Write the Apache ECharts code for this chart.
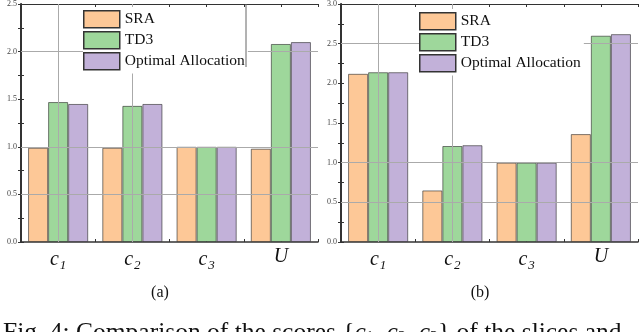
<!DOCTYPE html>
<html>
<head>
<meta charset="utf-8">
<script src="https://cdn.jsdelivr.net/npm/echarts@6/dist/echarts.min.js"></script>
<style>
  html, body { margin: 0; padding: 0; background: #fff; }
  #chart { width: 640px; height: 332px; }
</style>
</head>
<body>
<div id="chart"></div>
<script>
// ---- data ----
var categories = ['c1', 'c2', 'c3', 'U'];
var seriesNames = ['SRA', 'TD3', 'Optimal Allocation'];
// panel (a)
var sraA = [0.99, 0.99, 1.00, 0.98];
var td3A = [1.47, 1.43, 1.00, 2.08];
var optA = [1.45, 1.45, 1.00, 2.10];
// panel (b)
var sraB = [2.12, 0.65, 1.00, 1.36];
var td3B = [2.14, 1.21, 1.00, 2.60];
var optB = [2.14, 1.22, 1.00, 2.62];
// axis ranges / gridlines
var yMaxA = 2.5, yMaxB = 3.0, yStep = 0.5;
var hGridA = [0.5, 1.0, 2.0];
var hGridB = [0.5, 1.0, 2.5];
var vGrid = ['c1', 'c2'];
var panelLabels = ['(a)', '(b)'];

var colors = ['#FDC897', '#9ED79B', '#C2B1D9'];
var serif = 'Liberation Serif';
var axisCol = '#333';

function catLabel(v) {
  if (v === 'U') return '{i|U}';
  return '{i|c}{s|' + v.slice(1) + '}';
}

function makeGrid(idx, yMax) {
  var xAxes = [
    { // category axis with labels
      gridIndex: idx, type: 'category', data: categories, position: 'bottom',
      axisLine: { show: false }, axisTick: { show: false }, splitLine: { show: false },
      axisLabel: {
        margin: 5, formatter: catLabel,
        rich: {
          i: { fontFamily: serif, fontStyle: 'italic', fontSize: 20, color: '#111' },
          s: { fontFamily: serif, fontStyle: 'italic', fontSize: 13, color: '#111', verticalAlign: 'bottom', padding: [12, 0, 0, 1] }
        }
      }
    },
    { // bottom ticks (centers and boundaries)
      gridIndex: idx, type: 'value', min: 0, max: 8, interval: 1, position: 'bottom',
      axisLine: { show: true, lineStyle: { color: axisCol, width: 1.5 } },
      axisTick: { show: true, inside: true, length: 3, lineStyle: { color: axisCol } },
      axisLabel: { show: false }, splitLine: { show: false }
    },
    { // top ticks
      gridIndex: idx, type: 'value', min: 0, max: 8, interval: 1, position: 'top',
      axisLine: { show: true, lineStyle: { color: axisCol, width: 1 } },
      axisTick: { show: true, inside: true, length: 3, lineStyle: { color: axisCol } },
      axisLabel: { show: false }, splitLine: { show: false }
    }
  ];
  var yAxes = [
    {
      gridIndex: idx, type: 'value', min: 0, max: yMax, interval: yStep, position: 'left',
      axisLine: { show: true, lineStyle: { color: axisCol, width: 2 } },
      axisTick: { show: true, inside: true, length: 3, lineStyle: { color: axisCol } },
      minorTick: { show: true, splitNumber: 2, length: 3, lineStyle: { color: axisCol } },
      splitLine: { show: false },
      axisLabel: {
        margin: 4, fontFamily: serif, fontSize: 8, color: '#444',
        formatter: function (v) { return v.toFixed(1); }
      }
    },
    {
      gridIndex: idx, type: 'value', min: 0, max: yMax, interval: yStep, position: 'right',
      axisLine: { show: true, lineStyle: { color: axisCol, width: 1 } },
      axisTick: { show: true, inside: true, length: 3, lineStyle: { color: axisCol } },
      minorTick: { show: true, splitNumber: 2, length: 3, lineStyle: { color: axisCol } },
      splitLine: { show: false },
      axisLabel: { show: false }
    }
  ];
  return { xAxes: xAxes, yAxes: yAxes };
}

var gA = makeGrid(0, yMaxA);
var gB = makeGrid(1, yMaxB);
var xAxis = gA.xAxes.concat(gB.xAxes);
var yAxis = gA.yAxes.concat(gB.yAxes);

function barSeries(name, data, xi, yi, color) {
  return {
    name: name, type: 'bar', data: data, xAxisIndex: xi, yAxisIndex: yi,
    barGap: '0%', barCategoryGap: '19%', z: 3,
    itemStyle: { color: color, borderColor: 'rgba(40,40,40,0.6)', borderWidth: 1 }
  };
}

function gridLines(xi, yi, hVals) {
  var d = [];
  vGrid.forEach(function (c) { d.push({ xAxis: c }); });
  hVals.forEach(function (v) { d.push({ yAxis: v }); });
  return {
    type: 'line', data: [], xAxisIndex: xi, yAxisIndex: yi, z: 1, silent: true,
    markLine: {
      silent: true, symbol: 'none', label: { show: false }, animation: false,
      lineStyle: { color: '#aaa', type: 'solid', width: 1 },
      data: d
    }
  };
}

var series = [
  gridLines(0, 0, hGridA),
  barSeries(seriesNames[0], sraA, 0, 0, colors[0]),
  barSeries(seriesNames[1], td3A, 0, 0, colors[1]),
  barSeries(seriesNames[2], optA, 0, 0, colors[2]),
  gridLines(3, 2, hGridB),
  barSeries(seriesNames[0], sraB, 3, 2, colors[0]),
  barSeries(seriesNames[1], td3B, 3, 2, colors[1]),
  barSeries(seriesNames[2], optB, 3, 2, colors[2])
];

function legendAt(left, top) {
  return {
    data: seriesNames, orient: 'vertical', left: left, top: top, z: 20, zlevel: 0,
    itemWidth: 36, itemHeight: 17, itemGap: 2.5, padding: [3, 3, 3, 0],
    backgroundColor: '#fff', icon: 'rect', selectedMode: false,
    itemStyle: { borderColor: '#333', borderWidth: 1.5 },
    textStyle: { fontFamily: serif, fontSize: 15.5, color: '#111' }
  };
}

var option = {
  animation: false,
  backgroundColor: '#fff',
  color: colors,
  grid: [
    { left: 21, right: 322, top: 3, bottom: 90 },
    { left: 341, right: 2, top: 3, bottom: 90 }
  ],
  xAxis: xAxis,
  yAxis: yAxis,
  legend: [legendAt(83, 7), legendAt(419, 9)],
  series: series,
  graphic: [
    { type: 'line', shape: { x1: 246, y1: 4, x2: 246, y2: 67 }, style: { stroke: '#666', lineWidth: 1 }, z: 30 },
    { type: 'text', x: 160, y: 293, style: { text: panelLabels[0], fill: '#111', font: '16px "Liberation Serif"', align: 'center', verticalAlign: 'middle' } },
    { type: 'text', x: 480, y: 293, style: { text: panelLabels[1], fill: '#111', font: '16px "Liberation Serif"', align: 'center', verticalAlign: 'middle' } },
    {
      type: 'text', x: 3, y: 320,
      style: {
        text: '{n|Fig. 4: Comparison of the scores \{}{i|c}{s|1}{n|, }{i|c}{s|2}{n|, }{i|c}{s|3}{n|\}}{n| of the slices and}',
        fill: '#111', font: '25.5px "Liberation Serif"', verticalAlign: 'top',
        rich: {
          n: { fontFamily: serif, fontSize: 25.5, fill: '#111' },
          i: { fontFamily: serif, fontStyle: 'italic', fontSize: 25.5, fill: '#111' },
          s: { fontFamily: serif, fontSize: 16, fill: '#111', verticalAlign: 'bottom' }
        }
      }
    }
  ]
};

var chart = echarts.init(document.getElementById('chart'), null, { renderer: 'canvas' });
chart.setOption(option);
</script>
</body>
</html>
